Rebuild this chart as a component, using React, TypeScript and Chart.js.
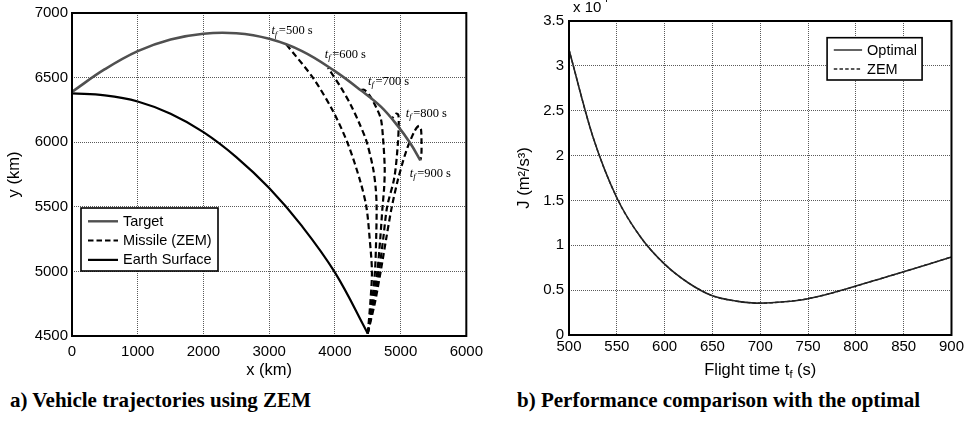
import React, { useEffect, useRef } from 'react';
import { Chart, registerables } from 'chart.js';

Chart.register(...registerables);

const SANS = '"Liberation Sans", Arial, Helvetica, sans-serif';
const SERIF = '"Liberation Serif", "Times New Roman", Times, serif';

// ---------- Panel a) Vehicle trajectories (km) ----------
const targetX = [0, 500, 1000, 1500, 2000, 2500, 3000, 3500, 4000, 4400, 4700, 4950, 5150, 5300];
const targetY = [6390, 6565, 6705, 6795, 6840, 6843, 6800, 6705, 6550, 6400, 6275, 6130, 5990, 5860];

const earthX = [0, 500, 1000, 1500, 2000, 2500, 3000, 3500, 4000, 4500];
const earthY = [6378, 6362, 6315, 6220, 6078, 5885, 5645, 5350, 4992, 4520];

const missile500X = [4500, 4540, 4564, 4530, 4479, 4385, 4200, 3971, 3667, 3262];
const missile500Y = [4520, 4760, 5000, 5250, 5500, 5700, 5985, 6241, 6498, 6756];

const missile600X = [4500, 4564, 4610, 4628, 4635, 4620, 4579, 4479, 4360, 4240, 4090, 3895];
const missile600Y = [4520, 4760, 5000, 5250, 5500, 5650, 5805, 6010, 6160, 6290, 6425, 6576];

const missile700X = [4500, 4579, 4646, 4690, 4725, 4750, 4758, 4732, 4700, 4631, 4530, 4450, 4400];
const missile700Y = [4520, 4760, 5000, 5250, 5500, 5650, 5804, 6036, 6180, 6267, 6360, 6405, 6405];

const missile800X = [4500, 4595, 4671, 4735, 4795, 4905, 4958, 4972, 4965, 4935, 4900, 4860];
const missile800Y = [4520, 4760, 5000, 5250, 5500, 5727, 5985, 6150, 6210, 6222, 6200, 6182];

const missile900X = [4500, 4610, 4697, 4780, 4859, 4955, 5087, 5214, 5279, 5310, 5318, 5316, 5300];
const missile900Y = [4520, 4760, 5000, 5250, 5480, 5701, 5933, 6087, 6126, 6100, 6000, 5900, 5860];

const flightTimes = ['500', '600', '700', '800', '900'];
const labelX = [3034, 3845, 4503, 5077, 5138];
const labelY = [6859, 6674, 6465, 6221, 5753];

const trajXTicks = [0, 6000, 1000];
const trajYTicks = [4500, 7000, 500];

// ---------- Panel b) Performance comparison ----------
const flightTime = [500, 525, 550, 575, 600, 625, 650, 675, 700, 725, 750, 775, 800, 825, 850, 875, 900];
const optimalJ = [3.18, 2.21, 1.53, 1.09, 0.79, 0.58, 0.437, 0.378, 0.355, 0.37, 0.405, 0.468, 0.545, 0.625, 0.705, 0.787, 0.87];
const zemJ = [3.18, 2.21, 1.53, 1.09, 0.79, 0.58, 0.437, 0.378, 0.355, 0.37, 0.405, 0.468, 0.545, 0.625, 0.705, 0.787, 0.87];
const perfXTicks = [500, 900, 50];
const perfYTicks = [0, 3.5, 0.5];

const toPts = (xs: number[], ys: number[]) => xs.map((x, i) => ({ x, y: ys[i] }));

const GRID = '#5a5a5a';

const tickFont = { family: SANS, size: 15 };
const titleFont = { family: SANS, size: 16.5 };

type LegendItem = { label: string; color: string; width: number; dash: number[] };

function drawFrame(chart: any) {
  const { ctx, chartArea: a } = chart;
  ctx.save();
  ctx.strokeStyle = '#000';
  ctx.lineWidth = 2;
  ctx.setLineDash([]);
  ctx.strokeRect(a.left, a.top, a.right - a.left, a.bottom - a.top);
  ctx.restore();
}

function drawLegend(
  ctx: CanvasRenderingContext2D,
  x: number,
  y: number,
  w: number,
  h: number,
  items: LegendItem[],
  first: number,
  row: number,
  inset: number,
  sample: number,
  gap: number
) {
  ctx.save();
  ctx.fillStyle = '#fff';
  ctx.fillRect(x, y, w, h);
  ctx.strokeStyle = '#000';
  ctx.lineWidth = 1.6;
  ctx.setLineDash([]);
  ctx.strokeRect(x, y, w, h);
  ctx.font = `14.5px ${SANS}`;
  ctx.textBaseline = 'middle';
  ctx.textAlign = 'left';
  items.forEach((it, i) => {
    const cy = y + first + i * row;
    ctx.beginPath();
    ctx.strokeStyle = it.color;
    ctx.lineWidth = it.width;
    ctx.setLineDash(it.dash);
    ctx.moveTo(x + inset, cy);
    ctx.lineTo(x + inset + sample, cy);
    ctx.stroke();
    ctx.setLineDash([]);
    ctx.fillStyle = '#000';
    ctx.fillText(it.label, x + inset + sample + gap, cy + 0.5);
  });
  ctx.restore();
}

const missileStyle = { borderColor: '#000', borderWidth: 2.2, borderDash: [6, 3.5] };

function trajectoryConfig(): any {
  const missiles = [
    [missile500X, missile500Y],
    [missile600X, missile600Y],
    [missile700X, missile700Y],
    [missile800X, missile800Y],
    [missile900X, missile900Y],
  ];
  return {
    type: 'scatter',
    data: {
      datasets: [
        {
          label: 'Target',
          data: toPts(targetX, targetY),
          borderColor: '#505050',
          borderWidth: 2.6,
          showLine: true,
          pointRadius: 0,
          tension: 0.4,
        },
        ...missiles.map((m, i) => ({
          label: `Missile (ZEM) ${flightTimes[i]}`,
          data: toPts(m[0], m[1]),
          ...missileStyle,
          showLine: true,
          pointRadius: 0,
          tension: 0.3,
        })),
        {
          label: 'Earth Surface',
          data: toPts(earthX, earthY),
          borderColor: '#000',
          borderWidth: 2.2,
          showLine: true,
          pointRadius: 0,
          tension: 0.4,
        },
      ],
    },
    options: {
      responsive: false,
      animation: false,
      events: [],
      layout: { padding: { left: 0, top: 12, right: 23, bottom: 0 } },
      plugins: { legend: { display: false }, tooltip: { enabled: false } },
      scales: {
        x: {
          type: 'linear',
          min: trajXTicks[0],
          max: trajXTicks[1],
          afterFit: (s: any) => {
            s.height = 49;
          },
          ticks: {
            stepSize: trajXTicks[2],
            color: '#000',
            font: tickFont,
            padding: 7,
            maxRotation: 0,
            autoSkip: false,
            callback: (v: any) => String(v),
          },
          grid: { color: GRID, lineWidth: 1, drawTicks: false },
          border: { display: false, dash: [1, 1] },
          title: { display: true, text: 'x (km)', color: '#000', font: titleFont, padding: { top: 0, bottom: 5 } },
        },
        y: {
          type: 'linear',
          min: trajYTicks[0],
          max: trajYTicks[1],
          afterFit: (s: any) => {
            s.width = 72;
          },
          ticks: {
            stepSize: trajYTicks[2],
            color: '#000',
            font: tickFont,
            padding: 4,
            autoSkip: false,
            callback: (v: any) => String(v),
          },
          grid: { color: GRID, lineWidth: 1, drawTicks: false },
          border: { display: false, dash: [1, 1] },
          title: { display: true, text: 'y (km)', color: '#000', font: titleFont, padding: { top: 5, bottom: 0 } },
        },
      },
    },
    plugins: [
      {
        id: 'trajExtras',
        afterDatasetsDraw(chart: any) {
          const { ctx, chartArea: a, scales } = chart;
          ctx.save();
          ctx.fillStyle = '#000';
          ctx.textBaseline = 'middle';
          ctx.textAlign = 'left';
          flightTimes.forEach((t, i) => {
            let px = scales.x.getPixelForValue(labelX[i]);
            const py = scales.y.getPixelForValue(labelY[i]);
            ctx.font = `italic 12.5px ${SERIF}`;
            ctx.fillText('t', px, py);
            px += ctx.measureText('t').width;
            ctx.font = `italic 9px ${SERIF}`;
            ctx.fillText('f', px, py + 3);
            px += ctx.measureText('f').width + 1.5;
            ctx.font = `12.5px ${SERIF}`;
            ctx.fillText(`=${t} s`, px, py);
          });
          ctx.restore();
          drawLegend(
            ctx,
            a.left + 9,
            a.top + 195,
            137,
            63,
            [
              { label: 'Target', color: '#505050', width: 2.4, dash: [] },
              { label: 'Missile (ZEM)', color: '#000', width: 2, dash: [5.5, 3] },
              { label: 'Earth Surface', color: '#000', width: 2.2, dash: [] },
            ],
            13.3,
            19.3,
            7,
            30,
            5
          );
        },
        afterDraw(chart: any) {
          drawFrame(chart);
        },
      },
    ],
  };
}

function performanceConfig(): any {
  return {
    type: 'scatter',
    data: {
      datasets: [
        {
          label: 'ZEM',
          data: toPts(flightTime, zemJ),
          borderColor: '#222',
          borderWidth: 1.4,
          borderDash: [3.5, 2.2],
          showLine: true,
          pointRadius: 0,
          cubicInterpolationMode: 'monotone',
        },
        {
          label: 'Optimal',
          data: toPts(flightTime, optimalJ),
          borderColor: '#222',
          borderWidth: 1.6,
          showLine: true,
          pointRadius: 0,
          cubicInterpolationMode: 'monotone',
        },
      ],
    },
    options: {
      responsive: false,
      animation: false,
      events: [],
      layout: { padding: { left: 0, top: 21, right: 14, bottom: 0 } },
      plugins: { legend: { display: false }, tooltip: { enabled: false } },
      scales: {
        x: {
          type: 'linear',
          min: perfXTicks[0],
          max: perfXTicks[1],
          afterFit: (s: any) => {
            s.height = 50;
          },
          ticks: {
            stepSize: perfXTicks[2],
            color: '#000',
            font: tickFont,
            padding: 3,
            maxRotation: 0,
            autoSkip: false,
            callback: (v: any) => String(v),
          },
          grid: { color: GRID, lineWidth: 1, drawTicks: false },
          border: { display: false, dash: [1, 1] },
        },
        y: {
          type: 'linear',
          min: perfYTicks[0],
          max: perfYTicks[1],
          afterFit: (s: any) => {
            s.width = 79;
          },
          ticks: {
            stepSize: perfYTicks[2],
            color: '#000',
            font: tickFont,
            padding: 5,
            autoSkip: false,
            callback: (v: any) => String(Number(Number(v).toFixed(2))),
          },
          grid: { color: GRID, lineWidth: 1, drawTicks: false },
          border: { display: false, dash: [1, 1] },
          title: {
            display: true,
            text: 'J (m\u00B2/s\u00B3)',
            color: '#000',
            font: titleFont,
            padding: { top: 25, bottom: 0 },
          },
        },
      },
    },
    plugins: [
      {
        id: 'perfExtras',
        afterDatasetsDraw(chart: any) {
          const { ctx, chartArea: a } = chart;
          drawLegend(
            ctx,
            a.right - 124.4,
            a.top + 16.7,
            95,
            42.3,
            [
              { label: 'Optimal', color: '#222', width: 1.4, dash: [] },
              { label: 'ZEM', color: '#222', width: 1.3, dash: [3.5, 2.2] },
            ],
            12.3,
            19,
            6.7,
            28.3,
            5
          );
        },
        afterDraw(chart: any) {
          const { ctx, chartArea: a } = chart;
          drawFrame(chart);
          ctx.save();
          ctx.fillStyle = '#000';
          ctx.textAlign = 'left';
          ctx.textBaseline = 'alphabetic';
          ctx.font = `15px ${SANS}`;
          const ex = a.left + 4;
          ctx.fillText('x 10', ex, 12);
          const w10 = ctx.measureText('x 10').width;
          ctx.font = `11px ${SANS}`;
          ctx.fillText('4', ex + w10 + 1, 1.5);
          const main = 'Flight time t';
          const tail = ' (s)';
          ctx.font = `16.5px ${SANS}`;
          const w1 = ctx.measureText(main).width;
          const w3 = ctx.measureText(tail).width;
          ctx.font = `11px ${SANS}`;
          const w2 = ctx.measureText('f').width;
          const total = w1 + w2 + w3;
          let tx = (a.left + a.right) / 2 - total / 2;
          const ty = a.bottom + 40;
          ctx.font = `16.5px ${SANS}`;
          ctx.fillText(main, tx, ty);
          tx += w1;
          ctx.font = `11px ${SANS}`;
          ctx.fillText('f', tx, ty + 3);
          tx += w2;
          ctx.font = `16.5px ${SANS}`;
          ctx.fillText(tail, tx, ty);
          ctx.restore();
        },
      },
    ],
  };
}

function ChartCanvas(props: { make: () => any; left: number; width: number; height: number }) {
  const ref = useRef<HTMLCanvasElement | null>(null);
  useEffect(() => {
    if (!ref.current) return;
    const chart = new Chart(ref.current, props.make());
    return () => chart.destroy();
  }, []);
  return (
    <canvas
      ref={ref}
      width={props.width}
      height={props.height}
      style={{ position: 'absolute', left: props.left, top: 0, width: props.width, height: props.height, display: 'block' }}
    />
  );
}

const captionStyle: React.CSSProperties = {
  position: 'absolute',
  top: 390,
  fontFamily: SERIF,
  fontWeight: 'bold',
  fontSize: 21,
  lineHeight: '21px',
  whiteSpace: 'nowrap',
  color: '#000',
};

export default function App() {
  return (
    <div
      style={{
        position: 'absolute',
        left: 0,
        top: 0,
        width: 967,
        height: 422,
        background: '#fff',
        overflow: 'hidden',
      }}
    >
      <ChartCanvas make={trajectoryConfig} left={0} width={490} height={385} />
      <ChartCanvas make={performanceConfig} left={490} width={477} height={385} />
      <div style={{ ...captionStyle, left: 10 }}>a) Vehicle trajectories using ZEM</div>
      <div style={{ ...captionStyle, left: 517 }}>b) Performance comparison with the optimal</div>
    </div>
  );
}
